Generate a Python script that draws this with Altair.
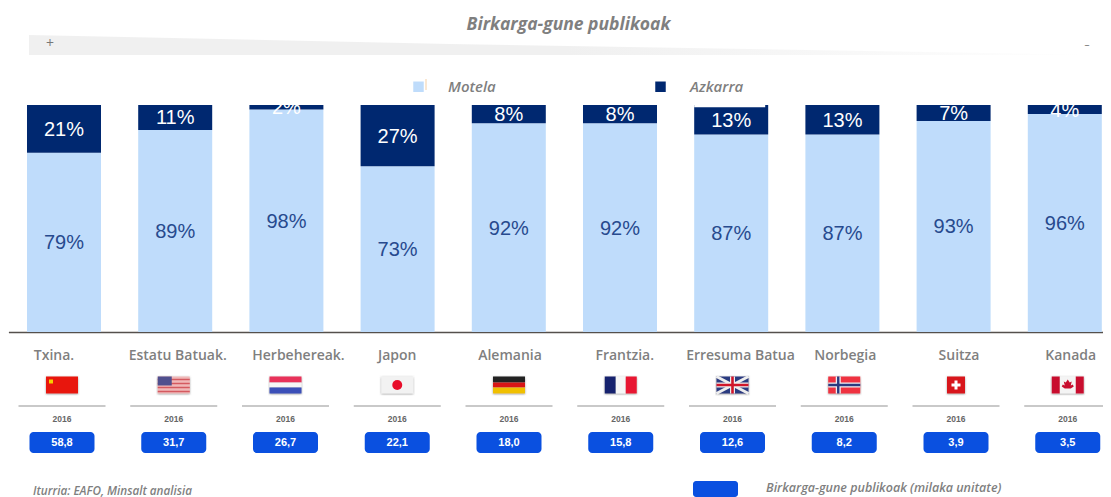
import base64
import altair as alt
import pandas as pd

countries = ["Txina.", "Estatu Batuak.", "Herbehereak.", "Japon", "Alemania",
             "Frantzia.", "Erresuma Batua", "Norbegia", "Suitza", "Kanada"]
motela = [79, 89, 98, 73, 92, 92, 87, 87, 93, 96]
azkarra = [21, 11, 2, 27, 8, 8, 13, 13, 7, 4]
stations = ["58,8", "31,7", "26,7", "22,1", "18,0", "15,8", "12,6", "8,2", "3,9", "3,5"]
years = ["2016"] * 10

TITLE = "Birkarga-gune publikoak"
SERIES = ["Motela", "Azkarra"]
LIGHT, DARK, NAVY_TEXT = "#bfdcfb", "#002870", "#274a8e"
PILL, GREY = "#0a50e0", "#7f7f7f"
SANS = "Open Sans"
W, H = 1095, 272

# layout only: horizontal nudges of the hand-placed country names in the source
name_nudge = [-8, 4, 13, 0, 1, 4, 8, 1, 3, 3]
NAME_BAND_HALF = 39.1

FLAG_BODIES = [
    '<rect width="32" height="17" fill="#e8140c"/><rect x="3" y="3" width="4" height="4" fill="#f6d000"/>',
    '<rect width="32" height="17" fill="#f0b8b8"/><path d="M0 3h32M0 7h32M0 11h32M0 15h32" stroke="#d45a60" stroke-width="1.4"/><rect width="14" height="9" fill="#50508e"/>',
    '<rect width="32" height="6" fill="#e8305a"/><rect y="6" width="32" height="5" fill="#f6f6f6"/><rect y="11" width="32" height="6" fill="#3a50b8"/>',
    '<rect width="32" height="17" fill="#f2f2f2"/><circle cx="16" cy="8.5" r="5" fill="#e8102c"/>',
    '<rect width="32" height="6" fill="#222"/><rect y="6" width="32" height="5" fill="#d81818"/><rect y="11" width="32" height="6" fill="#f0c000"/>',
    '<rect width="11" height="17" fill="#14246e"/><rect x="11" width="10" height="17" fill="#f6f6f6"/><rect x="21" width="11" height="17" fill="#e81830"/>',
    '<rect width="32" height="17" fill="#2c3a80"/><path d="M0 0L32 17M32 0L0 17" stroke="#eee" stroke-width="3"/><path d="M16 0V17M0 8.5H32" stroke="#eee" stroke-width="5"/><path d="M16 0V17M0 8.5H32" stroke="#d0182c" stroke-width="2.6"/>',
    '<rect width="32" height="17" fill="#ef3340"/><path d="M10 0V17M0 8.5H32" stroke="#f2f2f2" stroke-width="5"/><path d="M10 0V17M0 8.5H32" stroke="#2a3a80" stroke-width="2.4"/>',
    '<rect x="7" width="18" height="17" fill="#d8141c"/><path d="M16 4V13M11.5 8.5H20.5" stroke="#fff" stroke-width="3"/>',
    '<rect width="32" height="17" fill="#f4f4f4"/><rect width="8" height="17" fill="#c8102e"/><rect x="24" width="8" height="17" fill="#c8102e"/><path d="M16 3l2 3 2-1-1 4 2-1 1 2-3 2h-6l-3-2 1-2 2 1-1-4 2 1z" fill="#c8102e"/>',
]


def flag_uri(body):
    svg = ('<svg xmlns="http://www.w3.org/2000/svg" width="36" height="21" viewBox="-2 -2 36 21">'
           '<defs><filter id="b" x="-15%" y="-15%" width="130%" height="140%">'
           '<feGaussianBlur stdDeviation="0.45" result="s"/>'
           '<feDropShadow in="s" dx="0" dy="0.8" stdDeviation="0.8" flood-color="#555" flood-opacity="0.55"/>'
           '</filter></defs>'
           f'<g filter="url(#b)">{body}</g></svg>')
    return "data:image/svg+xml;base64," + base64.b64encode(svg.encode()).decode()


rows = []
for c, m, a in zip(countries, motela, azkarra):
    rows.append(dict(country=c, series="Motela", start=0, end=m, mid=m / 2, label=f"{m}%"))
    rows.append(dict(country=c, series="Azkarra", start=m, end=m + a, mid=m + a / 2, label=f"{a}%"))
stack = pd.DataFrame(rows)
info = pd.DataFrame(dict(country=countries, station=stations, year=years,
                         nudge=[n + NAME_BAND_HALF for n in name_nudge],
                         flag=[flag_uri(b) for b in FLAG_BODIES]))
band = pd.DataFrame(dict(px=[21, 442, 1095], top=[-25, -16, -5], bottom=[-5, -5, -5]))

bar_x = alt.Scale(domain=countries, range=[0.4, 1112.4], paddingInner=0.3345, paddingOuter=0.16725)
info_x = alt.Scale(domain=countries, range=[-1.875, 1115.625], paddingInner=0.3, paddingOuter=0.15)
y_scale = alt.Scale(domain=[0, 100], range=[H, 45])


def X(axis=None, scale=bar_x):
    return alt.X("country:N", scale=scale, sort=None, title=None, axis=axis)


def text_at(txt, x, y, **kw):
    return alt.Chart(pd.DataFrame({"t": [txt]})).mark_text(**kw).encode(
        x=alt.value(x), y=alt.value(y), text="t:N")


shade = alt.Chart(band).mark_area(
    color=alt.Gradient(gradient="linear", x1=0, x2=1, y1=0, y2=0,
                       stops=[alt.GradientStop(color="#f0f0f0", offset=0),
                              alt.GradientStop(color="#f0f0f0", offset=0.5),
                              alt.GradientStop(color="#ffffff", offset=1)])
).encode(x=alt.X("px:Q", scale=None, axis=None),
         y=alt.Y("top:Q", scale=None, axis=None),
         y2="bottom:Q")

bars = alt.Chart(stack).mark_bar(strokeWidth=0).encode(
    x=X(alt.Axis(labels=False, ticks=False, grid=False, domain=True,
                 domainColor="#55504c", domainWidth=1.6)),
    y=alt.Y("start:Q", scale=y_scale, axis=None),
    y2="end:Q",
    color=alt.Color("series:N", sort=SERIES,
                    scale=alt.Scale(domain=SERIES, range=[LIGHT, DARK]),
                    legend=alt.Legend(orient="none", legendX=403, legendY=19, direction="horizontal",
                                      title=None, symbolType="square", symbolSize=110,
                                      symbolStrokeWidth=0, labelFont=SANS, labelFontSize=15,
                                      labelFontStyle="italic", labelFontWeight=600, labelColor=GREY,
                                      labelOffset=22, columnPadding=157)),
)

pct = lambda name, colour: alt.Chart(stack[stack.series == name]).mark_text(
    font="Liberation Sans", fontSize=20, color=colour, baseline="middle", dy=1
).encode(x=X(), y=alt.Y("mid:Q", scale=y_scale, axis=None), text="label:N")

mask = alt.Chart(pd.DataFrame({"a": [100], "b": [104]})).mark_rect(color="white").encode(
    x=alt.value(0), x2=alt.value(W),
    y=alt.Y("a:Q", scale=y_scale, axis=None), y2="b:Q")

notch = alt.Chart(pd.DataFrame({"country": ["Erresuma Batua"], "a": [99], "b": [100]})).mark_bar(
    color="white", width=71, xOffset=-1.5
).encode(x=X(), y=alt.Y("a:Q", scale=y_scale, axis=None), y2="b:Q")

names = alt.Chart(info).mark_text(font=SANS, fontSize=14, fontWeight=600, color=GREY).encode(
    x=X(scale=info_x), xOffset=alt.XOffset("nudge:Q", scale=None), y=alt.value(295.5), text="country:N")

flags = alt.Chart(info).mark_image(width=36, height=21).encode(
    x=X(scale=info_x), y=alt.value(325), url="flag:N")

seps = alt.Chart(info).mark_bar(color="#c9c9c9", width=87).encode(
    x=X(scale=info_x), y=alt.value(345), y2=alt.value(347))

yrs = alt.Chart(info).mark_text(font="Liberation Sans", fontSize=8.5, fontWeight="bold", color="#666666").encode(
    x=X(scale=info_x), y=alt.value(358.5), text="year:N")

pills = alt.Chart(info).mark_bar(color=PILL, width=65, cornerRadius=4).encode(
    x=X(scale=info_x), y=alt.value(372), y2=alt.value(393))

pill_txt = alt.Chart(info).mark_text(font="Liberation Sans", fontSize=11, fontWeight="bold", color="white").encode(
    x=X(scale=info_x), y=alt.value(382.5), text="station:N")

tiny = alt.Chart(pd.DataFrame({"a": [0]})).mark_rule(color="#f5cfa5", strokeWidth=1).encode(
    x=alt.value(418), y=alt.value(19), y2=alt.value(30))

chart = alt.layer(
    shade,
    bars,
    pct("Motela", NAVY_TEXT),
    pct("Azkarra", "white"),
    mask,
    notch,
    tiny,
    text_at("+", 42, -16, font=SANS, fontSize=14, color="#777777"),
    text_at("–", 1079, -15, font=SANS, fontSize=10, color="#777777"),
    names, flags, seps, yrs, pills, pill_txt,
    text_at("Iturria: EAFO, Minsalt analisia", 25, 431, font=SANS, fontSize=11.7, fontStyle="italic",
            fontWeight=600, color=GREY, align="left"),
    text_at("Birkarga-gune publikoak (milaka unitate)", 758, 428, font=SANS, fontSize=12.5, fontStyle="italic",
            fontWeight=600, color=GREY, align="left"),
    alt.Chart(pd.DataFrame({"a": [0]})).mark_rect(color=PILL, cornerRadius=3).encode(
        x=alt.value(685), x2=alt.value(730), y=alt.value(421), y2=alt.value(437)),
).resolve_scale(x="independent", y="independent").properties(
    width=W, height=H,
    title=alt.TitleParams(TITLE, anchor="middle", dx=13, offset=2, font=SANS, fontSize=17.5,
                          fontStyle="italic", fontWeight="bold", color=GREY),
    padding={"left": 0, "top": 52, "right": 0, "bottom": 165},
    autosize=alt.AutoSizeParams(type="none"),
).configure_view(strokeWidth=0)

chart.save("out.html", embed_options={"renderer": "svg", "actions": False})
